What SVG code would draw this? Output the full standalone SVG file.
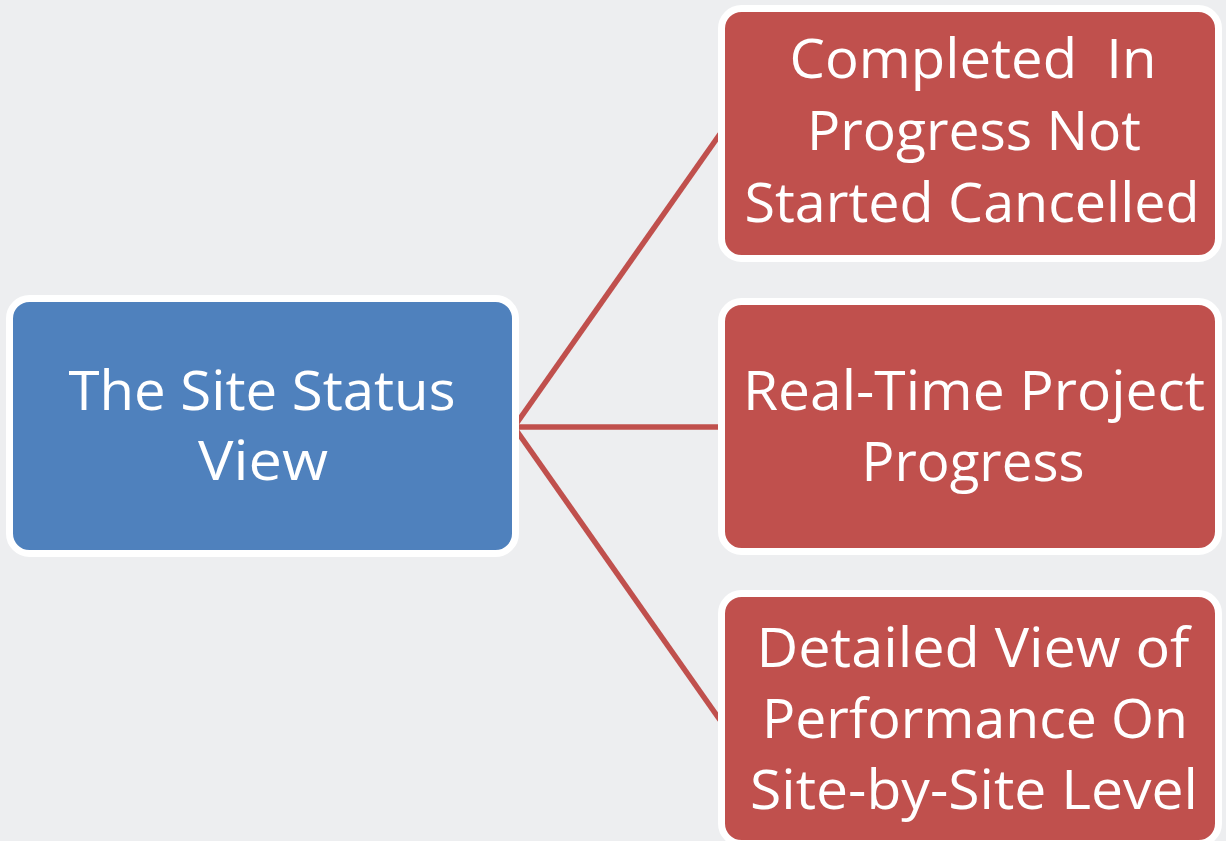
<svg xmlns="http://www.w3.org/2000/svg" width="1226" height="841" viewBox="0 0 1226 841">
<style>
.bg{fill:#EDEEF0}
.blue{fill:#4F81BD;stroke:#FFFFFF;stroke-width:7}
.red{fill:#C0504D;stroke:#FFFFFF;stroke-width:7}
.conn{stroke:#C0504D;stroke-width:5.5;fill:none;stroke-linecap:butt}
.t{font-family:"Open Sans","Noto Sans","Liberation Sans",sans-serif;font-size:55px;fill:#FFFFFF;text-anchor:middle}
</style>
<rect class="bg" x="0" y="0" width="1226" height="841"/>
<g id="connectors">
<line class="conn" x1="514" y1="427" x2="720" y2="134"/>
<line class="conn" x1="514" y1="427" x2="720" y2="427"/>
<line class="conn" x1="514" y1="427" x2="720" y2="720"/>
</g>
<g id="node-site-status">
<rect class="blue" x="9.5" y="298.5" width="506" height="255" rx="20"/>
<text class="t" x="262" y="410" textLength="387" lengthAdjust="spacingAndGlyphs">The Site Status</text>
<text class="t" x="263" y="480" textLength="130" lengthAdjust="spacingAndGlyphs">View</text>
</g>
<g id="node-status-types">
<rect class="red" x="721.5" y="8.5" width="497" height="250" rx="20"/>
<text class="t" x="973" y="78" textLength="367" lengthAdjust="spacingAndGlyphs" xml:space="preserve" style="white-space:pre">Completed  In</text>
<text class="t" x="974" y="150" textLength="334" lengthAdjust="spacingAndGlyphs">Progress Not</text>
<text class="t" x="972" y="222" textLength="455" lengthAdjust="spacingAndGlyphs">Started Cancelled</text>
</g>
<g id="node-realtime">
<rect class="red" x="721.5" y="301.5" width="497" height="250" rx="20"/>
<text class="t" x="974" y="410" textLength="462" lengthAdjust="spacingAndGlyphs">Real-Time Project</text>
<text class="t" x="973" y="481" textLength="223" lengthAdjust="spacingAndGlyphs">Progress</text>
</g>
<g id="node-detailed">
<rect class="red" x="721.5" y="593.5" width="497" height="250" rx="20"/>
<text class="t" x="973" y="667" textLength="433" lengthAdjust="spacingAndGlyphs">Detailed View of</text>
<text class="t" x="975" y="738" textLength="426" lengthAdjust="spacingAndGlyphs">Performance On</text>
<text class="t" x="974" y="809" textLength="448" lengthAdjust="spacingAndGlyphs">Site-by-Site Level</text>
</g>
</svg>
